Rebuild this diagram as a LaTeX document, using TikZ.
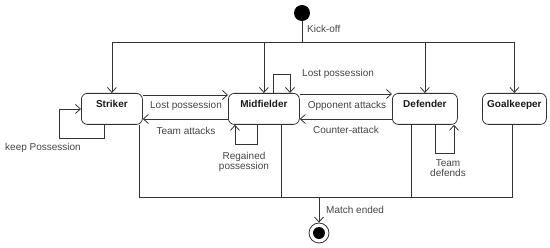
\documentclass[tikz,border=0pt]{standalone}
\usepackage{fontspec}
\setmainfont{Liberation Sans}
\usepackage{xcolor}
\definecolor{LineGrey}{HTML}{333333}
\definecolor{LabelGrey}{HTML}{444444}
\usetikzlibrary{arrows.meta}

\begin{document}
\begin{tikzpicture}[x=1pt,y=-1pt,font=\fontsize{10}{10.5}\selectfont,
    line/.style={draw=LineGrey,line width=0.8pt},
    arr/.style={line,-{Straight Barb[length=5pt,width=9pt]}},
    statebox/.style={line,rounded corners=6pt,anchor=north west,inner xsep=0pt,
      inner ysep=4pt,text height=10pt,text depth=13pt,text=black!90},
    lbl/.style={text=LabelGrey,align=center,inner sep=1pt}]
  \useasboundingbox (0,0) rectangle (550,248);
  \node[circle,fill=black,minimum size=16pt,inner sep=0pt] (start) at (302,13) {};
  \node[lbl,anchor=west] (kickoff) at (306,29) {Kick-off};
  \coordinate (fork) at (302,42);
  \node[statebox,minimum width=61pt] (striker) at (81,93) {\textbf{Striker}};
  \node[statebox,minimum width=71pt] (mid) at (228,93) {\textbf{Midfielder}};
  \node[statebox,minimum width=65pt] (def) at (392,93) {\textbf{Defender}};
  \node[statebox,minimum width=64pt] (gk) at (482,93) {\textbf{Goalkeeper}};
  \draw[line] (start) -- (fork);
  \foreach \s in {striker,mid,def,gk}
    \draw[arr] (fork) -| (\s.north);
  \draw[arr] (striker.east |- 0,95) -- (mid.west |- 0,95);
  \draw[arr] (mid.west |- 0,119) -- (striker.east |- 0,119);
  \draw[arr] (mid.east |- 0,94) -- (def.west |- 0,94);
  \draw[arr] (def.west |- 0,119) -- (mid.east |- 0,119);
  \node[lbl] (lostSM) at (186,106) {Lost possession};
  \node[lbl] (attacks) at (186,131) {Team attacks};
  \node[lbl] (opponent) at (347,106) {Opponent attacks};
  \node[lbl] (counter) at (346,130) {Counter-attack};
  \draw[arr] (striker.south -| 104,0) |- (59,138) |- (striker.west |- 0,109);
  \node[lbl] (keep) at (43,148) {keep Possession};
  \draw[arr] (mid.north -| 273,0) |- (290,74) -- (mid.north -| 290,0);
  \node[lbl,anchor=west] (lostMM) at (301,74) {Lost possession};
  \draw[arr] (mid.south -| 257,0) |- (235,144) -- (mid.south -| 235,0);
  \node[lbl] (regained) at (244,162) {Regained\\possession};
  \draw[arr] (def.south -| 435,0) |- (454,153) -- (def.south -| 454,0);
  \node[lbl] (defends) at (448,168) {Team\\defends};
  \coordinate (join) at (319,197);
  \foreach \s/\x in {striker/139,mid/281,def/411,gk/512}
    \draw[line] (\s.south -| \x,0) |- (join);
  \node[circle,line,fill=white,minimum size=20pt,inner sep=0pt] (final) at (319,233) {};
  \node[circle,fill=black,minimum size=12pt,inner sep=0pt] (finaldot) at (final) {};
  \draw[arr] (join) -- (final);
  \node[lbl,anchor=west] (ended) at (325,210) {Match ended};
\end{tikzpicture}
\end{document}
